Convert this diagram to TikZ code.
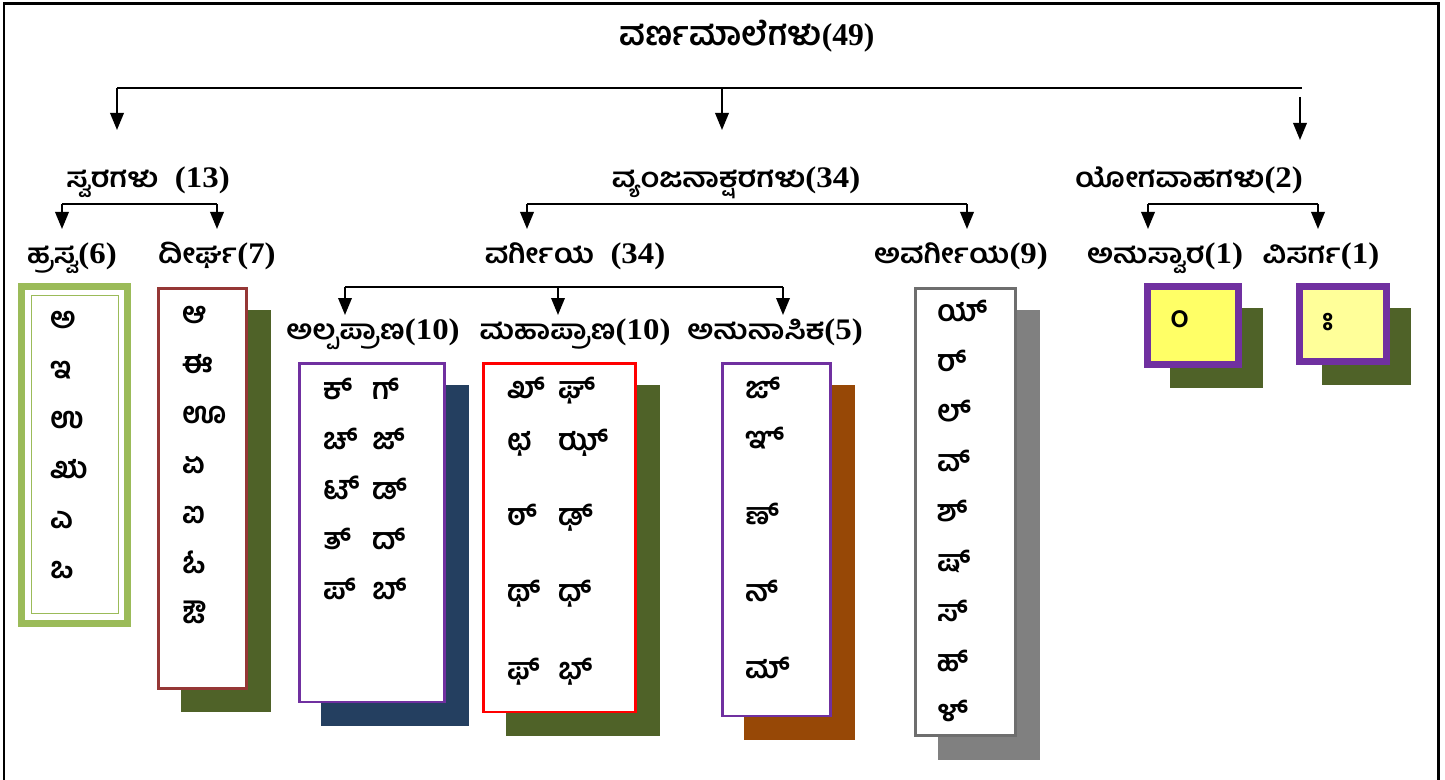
\documentclass[tikz,border=0pt]{standalone}
\usepackage{fontspec}
\setmainfont{Liberation Serif}
\newfontfamily\kn[Script=Kannada]{Hind Mysuru}
\newfontfamily\knwide[Script=Kannada,FakeStretch=1.12]{Hind Mysuru}
\newfontfamily\numwide[FakeStretch=1.1]{Liberation Serif}
\usetikzlibrary{arrows.meta}

\definecolor{hrasvagreen}{HTML}{9BBB59}
\definecolor{dirghared}{HTML}{953735}
\definecolor{olivedark}{HTML}{4F6228}
\definecolor{boxpurple}{HTML}{7030A0}
\definecolor{navyshade}{HTML}{243F60}
\definecolor{nasalbrown}{HTML}{974806}
\definecolor{greyline}{HTML}{6E6E6E}
\definecolor{greyshade}{HTML}{808080}
\definecolor{yellowa}{HTML}{FFFF66}
\definecolor{yellowb}{HTML}{FFFF99}

% label: kannada word + count
\newcommand\lab[2]{{\knwide\fontsize{15.5}{15}\selectfont #1}{\numwide\fontsize{17}{15}\selectfont #2}}

\begin{document}
\begin{tikzpicture}[x=0.02cm, y=-0.02cm]
  \tikzset{
    lbl/.style={anchor=base, inner sep=0pt, font=\bfseries},
    glyph/.style={anchor=base west, inner sep=0pt, font=\kn\bfseries\fontsize{17}{17}\selectfont},
    bar/.style={line width=1.1pt},
    arr/.style={line width=1.1pt, -{Triangle[length=0.34cm, width=0.27cm]}},
    card/.style={draw=#1, fill=white, line width=0.06cm}
  }
  % shadow box: shade colour, frame style, x1, y1, x2, y2
  \def\cardbox#1#2#3#4#5#6{%
    \fill[#1] (#3+22,#4+22) rectangle (#5+24,#6+24);
    \draw[#2] (#3,#4) rectangle (#5,#6);}

  \useasboundingbox (0,0) rectangle (1445,780);
  \draw[line width=0.06cm] (4,780) -- (4,4) -- (1438,4) -- (1438,780);

  % labels
  \node[lbl] (root) at (747,46) {{\kn\fontsize{19}{19}\selectfont ವರ್ಣಮಾಲೆಗಳು}{\fontsize{18}{18}\selectfont(49)}};
  \node[lbl] (swara) at (148,188) {\lab{ಸ್ವರಗಳು}{\ \ (13)}};
  \node[lbl] (vyanjana) at (736,188) {\lab{ವ್ಯಂಜನಾಕ್ಷರಗಳು}{(34)}};
  \node[lbl] (yoga) at (1189,188) {\lab{ಯೋಗವಾಹಗಳು}{(2)}};
  \node[lbl] (hrasva) at (72,264) {\lab{ಹ್ರಸ್ವ}{(6)}};
  \node[lbl] (dirgha) at (217,264) {\lab{ದೀರ್ಘ}{(7)}};
  \node[lbl] (vargiya) at (575,264) {\lab{ವರ್ಗೀಯ}{\ \ (34)}};
  \node[lbl] (avargiya) at (961,264) {\lab{ಅವರ್ಗೀಯ}{(9)}};
  \node[lbl] (anusvara) at (1165,264) {\lab{ಅನುಸ್ವಾರ}{(1)}};
  \node[lbl] (visarga) at (1321,264) {\lab{ವಿಸರ್ಗ}{(1)}};
  \node[lbl] (alpa) at (373,340) {\lab{ಅಲ್ಪಪ್ರಾಣ}{(10)}};
  \node[lbl] (maha) at (575,340) {\lab{ಮಹಾಪ್ರಾಣ}{(10)}};
  \node[lbl] (nasika) at (775,340) {\lab{ಅನುನಾಸಿಕ}{(5)}};

  % connectors
  \coordinate (rootL) at (117,88);
  \coordinate (rootM) at (722,88);
  \coordinate (rootR) at (1302,88);
  \coordinate (yogaTop) at (1300,97);
  \draw[line width=1.5pt] (rootL) -- (rootR);
  \draw[arr] (rootL) -- (117,130);
  \draw[arr] (rootM) -- (722,130);
  \draw[arr] (yogaTop) -- (1300,140);

  \coordinate (swaraL) at (62,204);
  \coordinate (swaraR) at (217,204);
  \draw[bar] (swaraL) -- (swaraR);
  \draw[arr] (swaraL) -- (62,229);
  \draw[arr] (swaraR) -- (217,229);

  \coordinate (vyanL) at (527,204);
  \coordinate (vyanR) at (967,204);
  \draw[bar] (vyanL) -- (vyanR);
  \draw[arr] (vyanL) -- (527,229);
  \draw[arr] (vyanR) -- (967,229);

  \coordinate (yogaL) at (1148,204);
  \coordinate (yogaR) at (1318,204);
  \draw[bar] (yogaL) -- (yogaR);
  \draw[arr] (yogaL) -- (1148,229);
  \draw[arr] (yogaR) -- (1318,229);

  \coordinate (vargL) at (345,287);
  \coordinate (vargM) at (558,287);
  \coordinate (vargR) at (783,287);
  \draw[bar] (vargL) -- (vargR);
  \draw[arr] (vargL) -- (345,315);
  \draw[arr] (vargM) -- (558,315);
  \draw[arr] (vargR) -- (783,315);

  % boxes
  \draw[hrasvagreen, line width=0.14cm] (21.5,286.5) rectangle (127.5,623.5);
  \draw[hrasvagreen, line width=0.02cm] (31,296) rectangle (118,614);
  \cardbox{olivedark}{card=dirghared}{158.5}{288.5}{246.5}{688.5}
  \cardbox{navyshade}{card=boxpurple}{299}{363.5}{444.5}{702}
  \cardbox{olivedark}{card=red}{483.5}{363.5}{635.5}{712}
  \cardbox{nasalbrown}{card=boxpurple}{722}{363.5}{830.5}{716}
  \cardbox{greyshade}{card=greyline}{915.5}{288.5}{1015.5}{735.5}
  \cardbox{olivedark}{card=boxpurple, fill=yellowa, line width=0.14cm}{1147.5}{286.5}{1238.5}{364.5}
  \cardbox{olivedark}{card=boxpurple, fill=yellowb, line width=0.14cm}{1299.5}{286.5}{1386.5}{361.5}

  % letters
  \foreach \ch [count=\i from 0] in {ಅ,ಇ,ಉ,ಋ,ಎ,ಒ}
    \node[glyph] (hr\i) at (50,{329+50*\i}) {\ch};
  \foreach \ch [count=\i from 0] in {ಆ,ಈ,ಊ,ಏ,ಐ,ಓ,ಔ}
    \node[glyph] (di\i) at (182,{324+50*\i}) {\ch};
  \foreach \a/\b [count=\i from 0] in {ಕ್/ಗ್,ಚ್/ಜ್,ಟ್/ಡ್,ತ್/ದ್,ಪ್/ಬ್} {
    \node[glyph] (al\i a) at (323,{400+50*\i}) {\a};
    \node[glyph] (al\i b) at (372,{400+50*\i}) {\b};
  }
  \foreach \a/\b/\yy [count=\i from 0] in {ಖ್/ಘ್/399,ಛ/ಝ್/451,ಠ್/ಢ್/526,ಥ್/ಧ್/602,ಫ್/ಭ್/680} {
    \node[glyph] (mh\i a) at (507,\yy) {\a};
    \node[glyph] (mh\i b) at (558,\yy) {\b};
  }
  \foreach \ch/\yy [count=\i from 0] in {ಙ್/399,ಞ್/449,ಣ್/525,ನ್/602,ಮ್/679}
    \node[glyph] (na\i) at (745,\yy) {\ch};
  \foreach \ch [count=\i from 0] in {ಯ್,ರ್,ಲ್,ವ್,ಶ್,ಷ್,ಸ್,ಹ್,ಳ್}
    \node[glyph] (av\i) at (937,{322+50*\i}) {\ch};
  \node[glyph] (anu) at (1163,328) {^^^^00a0ಂ};
  \node[glyph] (vis) at (1315,331) {^^^^00a0ಃ};
\end{tikzpicture}
\end{document}
